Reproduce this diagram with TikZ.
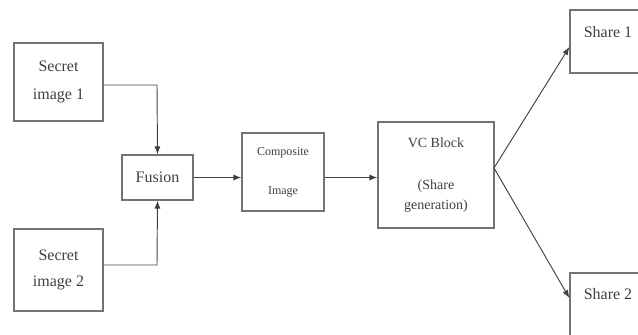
\documentclass[tikz,border=0pt]{standalone}
\usepackage{fontspec}
\setmainfont{Liberation Serif}
\usetikzlibrary{arrows.meta}
\begin{document}
\begin{tikzpicture}[x=0.75pt,y=-0.75pt,
  box/.style={draw=black!55, line width=0.9pt, fill=white, inner sep=0pt, align=center, text=black!75},
  conn/.style={draw=black!75, line width=0.7pt},
  arr/.style={conn, -{Latex[length=6pt,width=4.5pt]}}]
\useasboundingbox (0,0) rectangle (638,335);
\clip (0,0) rectangle (638,335);
% boxes
\node[box, minimum width=89*0.75pt, minimum height=78*0.75pt, font=\fontsize{12}{21}\selectfont] (s1) at (58.5,82) {Secret\\image 1};
\node[box, minimum width=89*0.75pt, minimum height=82*0.75pt, font=\fontsize{12}{20}\selectfont] (s2) at (58.5,270) {Secret\\image 2};
\node[box, minimum width=71*0.75pt, minimum height=45*0.75pt, font=\fontsize{12}{14}\selectfont] (fu) at (157.5,177.5) {Fusion};
\node[box, minimum width=82*0.75pt, minimum height=78*0.75pt, font=\fontsize{9}{29}\selectfont] (co) at (283,172) {Composite\\Image};
\node[box, minimum width=116*0.75pt, minimum height=106*0.75pt, font=\fontsize{10.5}{15}\selectfont] (vc) at (436,175) {VC Block\\[16pt](Share\\generation)};
\node[box, minimum width=90*0.75pt, minimum height=63*0.75pt] (sh1) at (615,41.5) {};
\node[box, minimum width=90*0.75pt, minimum height=72*0.75pt] (sh2) at (615,309) {};
\node[text=black!75, font=\fontsize{12}{14}\selectfont] (t1) at (608,32) {Share 1};
\node[text=black!75, font=\fontsize{12}{14}\selectfont] (t2) at (608,294) {Share 2};
% connectors
\coordinate (c1) at (157,85);
\coordinate (c2) at (157,265);
\coordinate (apex) at (494,168);
\draw[arr] (s1.east |- c1) -- (c1) -- (fu.north);
\draw[arr] (s2.east |- c2) -- (c2) -- (fu.south);
\draw[arr] (fu.east) -- (co.west |- fu.east);
\draw[arr] (co.east |- fu.east) -- (vc.west |- fu.east);
\draw[arr] (apex) -- ([yshift=-4.1pt]sh1.west);
\draw[arr] (apex) -- ([yshift=8.2pt]sh2.west);
\end{tikzpicture}
\end{document}
